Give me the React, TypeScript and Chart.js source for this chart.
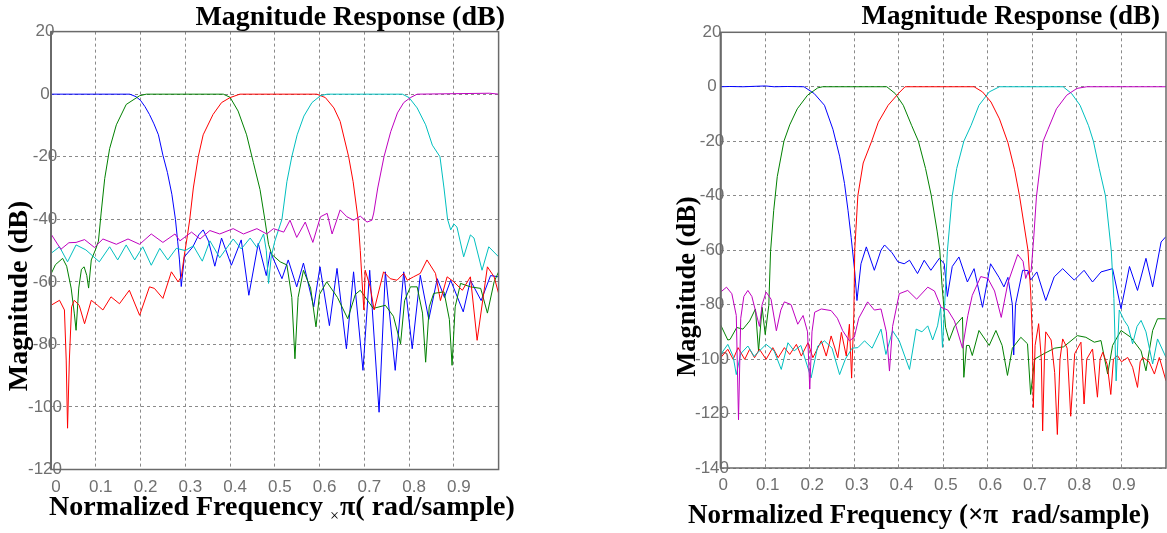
import React, { useEffect, useRef } from 'react';
import { Chart, registerables } from 'chart.js';

Chart.register(...registerables);

type Pt = [number, number];

// ---------- shared axis data ----------
const xTickValues = [0, 0.1, 0.2, 0.3, 0.4, 0.5, 0.6, 0.7, 0.8, 0.9];
const xTickLabels = ['0', '0.1', '0.2', '0.3', '0.4', '0.5', '0.6', '0.7', '0.8', '0.9'];
const yTicksLeft = [20, 0, -20, -40, -60, -80, -100, -120];
const yTicksRight = [20, 0, -20, -40, -60, -80, -100, -120, -140];

// ---------- left chart series (normalized frequency, dB) ----------
const lowpassL: Pt[] = [
  [0, 0], [0.05, 0], [0.1, 0], [0.15, 0], [0.176, 0], [0.19, -0.8], [0.2, -2], [0.21, -4], [0.22, -6.5],
  [0.23, -9.5], [0.24, -13], [0.25, -19.5], [0.26, -25], [0.27, -32], [0.278, -40], [0.283, -47], [0.287, -53],
  [0.291, -61.5], [0.298, -52], [0.317, -48.8], [0.33, -45], [0.34, -43.4], [0.352, -47], [0.366, -55],
  [0.381, -46], [0.403, -54.7], [0.425, -46.6], [0.442, -64.3], [0.463, -47.7], [0.481, -58], [0.49, -50.4],
  [0.516, -59], [0.53, -53], [0.549, -61.6], [0.564, -54], [0.587, -68], [0.601, -55.2], [0.622, -74],
  [0.639, -55.7], [0.66, -81.4], [0.676, -56.8], [0.697, -88.3], [0.712, -56.3], [0.733, -101.7],
  [0.747, -56.8], [0.769, -88.3], [0.788, -56.8], [0.807, -81.4], [0.825, -57.9], [0.844, -72],
  [0.863, -59], [0.879, -65], [0.893, -59.5], [0.921, -69.6], [0.937, -59.5], [0.961, -66], [0.982, -58],
  [1, -58.4],
];
const band1L: Pt[] = [
  [0, -57.5], [0.01, -54.5], [0.026, -52.5], [0.035, -55], [0.045, -62], [0.052, -70], [0.056, -75.5],
  [0.062, -62], [0.068, -56], [0.074, -55.2], [0.08, -58], [0.084, -62], [0.09, -53], [0.1, -49.5],
  [0.106, -47], [0.112, -38], [0.12, -27], [0.131, -17.4], [0.146, -9.8], [0.168, -3.3], [0.198, -0.5],
  [0.213, 0], [0.385, 0], [0.4, -1], [0.418, -5.4], [0.437, -13], [0.452, -21.8], [0.467, -30.5],
  [0.478, -40.3], [0.486, -48], [0.493, -51.2], [0.512, -53.6], [0.527, -54.6], [0.538, -65], [0.545, -84.6],
  [0.552, -65], [0.564, -56.3], [0.58, -62], [0.592, -74.4], [0.6, -64], [0.616, -60], [0.64, -65],
  [0.663, -71.8], [0.68, -64], [0.691, -62.7], [0.72, -68.5], [0.747, -67.5], [0.765, -71], [0.781, -79.8],
  [0.79, -66], [0.803, -61.6], [0.818, -61.6], [0.83, -70], [0.837, -85.7], [0.845, -68], [0.855, -63.7],
  [0.878, -63.2], [0.89, -72], [0.896, -86.7], [0.903, -68], [0.915, -60.5], [0.937, -61.6], [0.96, -62.1],
  [0.975, -70], [0.99, -60], [1, -56.8],
];
const band2L: Pt[] = [
  [0, -67.5], [0.019, -65.9], [0.03, -69], [0.034, -85], [0.037, -106.8], [0.041, -85], [0.046, -68],
  [0.052, -65.9], [0.063, -67.5], [0.075, -73.4], [0.09, -65.9], [0.104, -67.5], [0.116, -69], [0.134, -64.8],
  [0.153, -67], [0.175, -62.7], [0.198, -70.7], [0.22, -61.6], [0.231, -62.1], [0.25, -65.3], [0.269, -56.8],
  [0.284, -60], [0.291, -58.4], [0.298, -51.4], [0.305, -45], [0.31, -40], [0.318, -30], [0.329, -20],
  [0.34, -13], [0.362, -6.5], [0.381, -2.7], [0.4, -1.1], [0.422, 0], [0.594, 0], [0.613, -1.1], [0.632, -4.4],
  [0.646, -8.7], [0.665, -20], [0.675, -28], [0.686, -40], [0.691, -50], [0.695, -60], [0.699, -69],
  [0.702, -56.3], [0.713, -61.6], [0.722, -69], [0.743, -56.8], [0.758, -59], [0.773, -59.5], [0.788, -57.3],
  [0.796, -59.5], [0.81, -58.4], [0.825, -57.3], [0.84, -53], [0.859, -57.3], [0.87, -66], [0.885, -58.4],
  [0.9, -60], [0.919, -62.7], [0.937, -58.4], [0.952, -78.7], [0.975, -55.2], [0.99, -58.4], [1, -63.7],
];
const band3L: Pt[] = [
  [0, -50.9], [0.019, -48.8], [0.037, -53.6], [0.056, -48.2], [0.078, -49.8], [0.108, -53.6], [0.131, -48.8],
  [0.149, -53], [0.168, -48.2], [0.187, -53], [0.205, -48.8], [0.224, -54.7], [0.243, -49.3], [0.261, -53],
  [0.28, -49.3], [0.3, -50], [0.318, -48.5], [0.338, -53.4], [0.355, -46.9], [0.377, -52.3], [0.407, -46.3],
  [0.425, -49.5], [0.445, -46], [0.46, -49], [0.475, -44.7], [0.481, -50], [0.486, -60.5], [0.492, -52],
  [0.5, -47], [0.516, -40], [0.527, -28], [0.538, -20], [0.55, -13], [0.565, -7], [0.583, -2.7],
  [0.602, -0.5], [0.617, 0], [0.785, 0], [0.8, -1.1], [0.818, -4.4], [0.837, -9.8], [0.852, -16.3],
  [0.869, -20], [0.878, -30], [0.886, -40], [0.893, -43.4], [0.9, -41.5], [0.907, -42.5], [0.922, -52],
  [0.937, -45], [0.945, -46], [0.963, -56.3], [0.978, -48.8], [1, -52],
];
const highpassL: Pt[] = [
  [0, -44.7], [0.022, -49.6], [0.04, -47.5], [0.056, -47.4], [0.075, -46.5], [0.097, -49], [0.116, -46.3],
  [0.146, -48], [0.172, -46.3], [0.198, -48], [0.224, -44.7], [0.25, -47.4], [0.277, -44.7], [0.288, -46.9],
  [0.314, -44.1], [0.333, -46.3], [0.355, -43.6], [0.377, -44.7], [0.407, -43], [0.43, -44.7], [0.46, -43],
  [0.482, -44.7], [0.497, -43], [0.52, -44.1], [0.534, -40.3], [0.549, -45.8], [0.568, -40.9], [0.585, -47.4],
  [0.602, -39.2], [0.617, -38.1], [0.628, -44.7], [0.646, -37], [0.661, -39.2], [0.676, -40.3], [0.691, -39],
  [0.706, -40.9], [0.717, -40.3], [0.721, -38], [0.73, -30], [0.744, -20], [0.759, -12], [0.774, -6],
  [0.788, -2.7], [0.803, -1.1], [0.818, 0], [0.98, 0.3], [1, 0],
];

// ---------- right chart series (normalized frequency, dB) ----------
const lowpassR: Pt[] = [
  [0, 0], [0.02, 0.1], [0.05, 0], [0.1, 0.3], [0.12, 0], [0.15, 0.1], [0.187, 0], [0.21, -2.5], [0.233, -6.8],
  [0.252, -15.6], [0.267, -25.5], [0.278, -35.5], [0.286, -45.5], [0.293, -55.4], [0.301, -67.9], [0.306, -78.5],
  [0.315, -65], [0.327, -58.8], [0.345, -67.4], [0.36, -60], [0.368, -58.1], [0.385, -61], [0.398, -64.3],
  [0.412, -65], [0.424, -63.7], [0.442, -68.6], [0.457, -63.7], [0.472, -67.4], [0.491, -63], [0.502, -65],
  [0.509, -77], [0.52, -66], [0.535, -62.5], [0.554, -71.7], [0.569, -66.8], [0.588, -81], [0.606, -65],
  [0.625, -70], [0.636, -73.5], [0.645, -70], [0.655, -80], [0.658, -98.5], [0.662, -80], [0.678, -67.4],
  [0.69, -67.5], [0.696, -71], [0.71, -68], [0.73, -78.5], [0.749, -69.8], [0.768, -66.8], [0.794, -71],
  [0.816, -67.4], [0.835, -71.7], [0.854, -68], [0.88, -66.8], [0.899, -81.5], [0.918, -66], [0.936, -74.8],
  [0.955, -63], [0.97, -73.5], [0.989, -57], [1, -55],
];
const band1R: Pt[] = [
  [0, -87.5], [0.016, -93], [0.021, -92.8], [0.036, -88.4], [0.05, -89], [0.065, -86], [0.078, -81.6],
  [0.085, -97], [0.093, -81], [0.1, -91], [0.108, -80.3], [0.112, -60.4], [0.119, -45.5], [0.127, -33],
  [0.142, -20], [0.155, -14], [0.172, -8.1], [0.195, -3.1], [0.218, -0.4], [0.229, 0], [0.373, 0],
  [0.392, -2.5], [0.41, -6.8], [0.429, -14.3], [0.444, -20], [0.46, -30], [0.473, -40], [0.486, -53],
  [0.492, -60], [0.497, -72.9], [0.505, -88.3], [0.513, -93.2], [0.525, -88], [0.543, -84.6], [0.546, -106.7],
  [0.552, -95], [0.558, -95], [0.565, -98.7], [0.58, -89.5], [0.603, -95], [0.618, -89.5], [0.632, -95],
  [0.644, -106], [0.655, -96], [0.674, -92], [0.689, -94.4], [0.696, -113], [0.705, -100], [0.726, -98],
  [0.75, -96], [0.77, -95.5], [0.801, -91.4], [0.82, -92], [0.839, -93.8], [0.854, -93.2], [0.869, -105.5],
  [0.88, -95], [0.899, -89.5], [0.921, -92], [0.944, -97], [0.955, -104.3], [0.97, -89.5], [0.981, -85.2],
  [1, -85.2],
];
const band2R: Pt[] = [
  [0, -99.5], [0.016, -96.4], [0.028, -100.1], [0.039, -95.8], [0.054, -100.1], [0.065, -96.4], [0.076, -99.5],
  [0.087, -96.4], [0.102, -100.1], [0.117, -95.8], [0.129, -99.5], [0.143, -95.8], [0.155, -98.3],
  [0.17, -94.6], [0.181, -98.9], [0.196, -94], [0.207, -99.5], [0.226, -93.3], [0.237, -98.9], [0.248, -91.5],
  [0.263, -99.5], [0.271, -90.2], [0.282, -98.9], [0.289, -87.2], [0.294, -107], [0.299, -83.5], [0.301, -60],
  [0.308, -40], [0.32, -28], [0.339, -20], [0.354, -13], [0.376, -6.8], [0.399, -2.5], [0.414, 0], [0.569, 0],
  [0.588, -1.9], [0.607, -5.6], [0.626, -11.8], [0.645, -20.5], [0.66, -30.5], [0.671, -40], [0.69, -60],
  [0.696, -75], [0.7, -92.8], [0.702, -117.8], [0.706, -95], [0.714, -87], [0.72, -100], [0.723, -126.4],
  [0.727, -100], [0.73, -90], [0.742, -93], [0.75, -105], [0.756, -127.7], [0.762, -100], [0.768, -92.6],
  [0.778, -96], [0.786, -121], [0.795, -98], [0.809, -93.8], [0.816, -116.5], [0.822, -100], [0.835, -96.3],
  [0.846, -114], [0.852, -100], [0.858, -97.5], [0.868, -102], [0.876, -113], [0.882, -100], [0.891, -98.7],
  [0.9, -101], [0.914, -99.4], [0.925, -103], [0.936, -110.4], [0.942, -101], [0.948, -99.4], [0.962, -101],
  [0.974, -105.5], [0.985, -99.4], [1, -108],
];
const band3R: Pt[] = [
  [0, -98.3], [0.016, -94.6], [0.028, -99], [0.035, -105.7], [0.045, -98], [0.061, -95.2], [0.075, -99],
  [0.087, -97], [0.102, -94.6], [0.12, -97], [0.136, -103.8], [0.151, -94], [0.165, -97], [0.18, -95],
  [0.203, -106.9], [0.218, -95.2], [0.233, -93.3], [0.25, -96], [0.267, -105.7], [0.28, -100], [0.295, -96],
  [0.308, -95.8], [0.323, -93.3], [0.34, -96], [0.36, -89], [0.371, -98.3], [0.386, -89.6], [0.401, -93.3],
  [0.424, -103.8], [0.439, -89], [0.452, -90], [0.465, -87.8], [0.476, -93], [0.487, -87.8], [0.494, -81],
  [0.498, -95.7], [0.503, -80], [0.509, -60.4], [0.52, -40], [0.53, -30], [0.546, -20], [0.562, -14.3],
  [0.58, -6.8], [0.603, -1.9], [0.626, 0], [0.769, 0], [0.788, -2.5], [0.807, -6.8], [0.826, -14.3],
  [0.837, -20], [0.85, -30], [0.864, -40], [0.877, -60], [0.883, -77.8], [0.888, -108], [0.895, -82],
  [0.906, -85.8], [0.915, -88], [0.925, -94.4], [0.935, -88], [0.944, -85.8], [0.955, -90], [0.97, -101.8],
  [0.981, -92.6], [1, -99.4],
];
const highpassR: Pt[] = [
  [0, -75.4], [0.013, -73.6], [0.025, -76], [0.035, -84], [0.04, -122.3], [0.045, -85], [0.052, -77],
  [0.061, -74.8], [0.07, -77], [0.08, -83.5], [0.087, -88], [0.093, -80], [0.102, -75.4], [0.113, -78],
  [0.125, -89.6], [0.135, -82], [0.143, -79], [0.158, -80], [0.173, -87.2], [0.185, -84], [0.195, -90],
  [0.2, -111], [0.205, -90], [0.211, -82.8], [0.226, -81.6], [0.248, -82.2], [0.262, -85], [0.274, -89.6],
  [0.289, -93.3], [0.3, -92], [0.31, -85], [0.33, -79], [0.345, -82], [0.36, -81.6], [0.372, -90],
  [0.379, -104.4], [0.386, -88], [0.401, -76], [0.42, -74.8], [0.44, -78], [0.465, -73.6], [0.48, -75],
  [0.495, -81], [0.51, -82], [0.525, -86], [0.543, -96], [0.555, -84], [0.565, -76.6], [0.584, -69.7],
  [0.6, -70.4], [0.615, -75], [0.63, -84.7], [0.645, -72], [0.667, -61.6], [0.679, -64.1], [0.685, -70.4],
  [0.69, -68], [0.697, -68], [0.703, -55.4], [0.709, -40.5], [0.724, -20], [0.735, -15.6], [0.754, -8.1],
  [0.777, -3.1], [0.8, -0.6], [0.822, 0], [1, 0],
];

const COLORS = ['#0000ff', '#008000', '#ff0000', '#00bfbf', '#bf00bf'];

const serifBold = (px: number) => `bold ${px}px "Liberation Serif", "Times New Roman", serif`;
const TICK_FONT = 'Liberation Sans';

type Area = { l: number; t: number; r: number; b: number };

interface PanelProps {
  left: number;
  width: number;
  height: number;
  area: Area;
  yMin: number;
  yTicks: number[];
  series: Pt[][];
  yLabelCenter: number;
  xOffset: number;
  xPad: number;
  decorate: (ctx: CanvasRenderingContext2D) => void;
}

function Panel(p: PanelProps) {
  const ref = useRef<HTMLCanvasElement | null>(null);
  useEffect(() => {
    const canvas = ref.current;
    if (!canvas) return;
    const { area } = p;
    // y tick labels are centred left of the axis; Chart.js mirror mode lets them overlap the axis unclipped
    const widest = 34; // approx width of "-120" at 17px
    const yPad = p.yLabelCenter - area.l - widest / 2;
    const decor = {
      id: 'decor',
      afterDatasetsDraw(chart: any) {
        const ctx = chart.ctx as CanvasRenderingContext2D;
        const ca = chart.chartArea;
        ctx.save();
        ctx.strokeStyle = '#6a6a6a';
        ctx.lineWidth = 1.5;
        ctx.setLineDash([]);
        ctx.strokeRect(ca.left, ca.top, ca.right - ca.left, ca.bottom - ca.top);
        ctx.lineWidth = 2;
        ctx.beginPath();
        ctx.moveTo(ca.left, ca.top);
        ctx.lineTo(ca.left, ca.bottom);
        ctx.stroke();
        ctx.restore();
      },
      afterDraw(chart: any) {
        const ctx = chart.ctx as CanvasRenderingContext2D;
        ctx.save();
        p.decorate(ctx);
        ctx.restore();
      },
    };
    const chart = new Chart(canvas, {
      type: 'line',
      data: {
        datasets: p.series.map((s, i) => ({
          data: s.map(([x, y]) => ({ x, y })),
          borderColor: COLORS[i],
          backgroundColor: COLORS[i],
          borderWidth: 1,
          pointRadius: 0,
          tension: 0,
          fill: false,
          order: 5 - i,
        })),
      },
      options: {
        animation: false,
        responsive: false,
        devicePixelRatio: 1,
        events: [],
        layout: { padding: { left: 0, top: area.t, right: p.width - area.r, bottom: 0 } },
        plugins: { legend: { display: false }, title: { display: false }, tooltip: { enabled: false } },
        scales: {
          x: {
            type: 'linear',
            min: 0,
            max: 1,
            afterFit: (s: any) => { s.height = p.height - area.b; },
            afterBuildTicks: (s: any) => { s.ticks = xTickValues.map((v) => ({ value: v })); },
            ticks: {
              autoSkip: false,
              maxRotation: 0,
              labelOffset: p.xOffset,
              padding: p.xPad,
              color: '#707070',
              font: { family: TICK_FONT, size: 17 },
              callback: (_v: any, i: number) => xTickLabels[i] ?? '',
            },
            grid: { color: '#8a8a8a', lineWidth: 1, drawTicks: false },
            border: { display: false, dash: [3, 3] },
          },
          y: {
            type: 'linear',
            min: p.yMin,
            max: 20,
            afterFit: (s: any) => { s.width = area.l; },
            afterBuildTicks: (s: any) => { s.ticks = p.yTicks.map((v) => ({ value: v })); },
            ticks: {
              mirror: true,
              crossAlign: 'center',
              padding: yPad,
              color: '#707070',
              font: { family: TICK_FONT, size: 17 },
              callback: (v: any) => String(v),
            },
            grid: { color: '#8a8a8a', lineWidth: 1, drawTicks: false },
            border: { display: false, dash: [3, 3] },
          },
        },
      },
      plugins: [decor],
    } as any);
    return () => chart.destroy();
  }, []);
  return (
    <canvas
      ref={ref}
      width={p.width}
      height={p.height}
      style={{ position: 'absolute', left: p.left, top: 0, width: p.width, height: p.height }}
    />
  );
}

const drawYTitle = (ctx: CanvasRenderingContext2D, x: number, y: number, size: number) => {
  ctx.translate(x, y);
  ctx.rotate(-Math.PI / 2);
  ctx.font = serifBold(size);
  ctx.fillStyle = '#000';
  ctx.textAlign = 'center';
  ctx.textBaseline = 'alphabetic';
  ctx.fillText('Magnitude (dB)', 0, 0);
};

export default function App() {
  const decorateLeft = (ctx: CanvasRenderingContext2D) => {
    ctx.fillStyle = '#000';
    ctx.textBaseline = 'alphabetic';
    ctx.font = serifBold(28);
    ctx.textAlign = 'right';
    ctx.fillText('Magnitude Response (dB)', 505, 25);
    // x title with small multiplication sign
    ctx.textAlign = 'left';
    let x = 49;
    const part1 = 'Normalized Frequency ';
    ctx.fillText(part1, x, 515);
    x += ctx.measureText(part1).width;
    ctx.font = `16px "Liberation Serif", serif`;
    ctx.fillText('\u00d7', x, 521);
    x += ctx.measureText('\u00d7').width + 1;
    ctx.font = serifBold(28);
    ctx.fillText('\u03c0( rad/sample)', x, 515);
    ctx.save();
    drawYTitle(ctx, 27, 296, 28);
    ctx.restore();
  };
  const decorateRight = (ctx: CanvasRenderingContext2D) => {
    ctx.fillStyle = '#000';
    ctx.textBaseline = 'alphabetic';
    ctx.font = serifBold(27);
    ctx.textAlign = 'right';
    ctx.fillText('Magnitude Response (dB)', 560, 23.5);
    ctx.textAlign = 'left';
    ctx.fillText('Normalized Frequency (\u00d7\u03c0  rad/sample)', 88, 523);
    ctx.save();
    drawYTitle(ctx, 95, 286.5, 26.5);
    ctx.restore();
  };
  return (
    <div style={{ position: 'fixed', left: 0, top: 0, width: 1167, height: 533, background: '#fff', overflow: 'hidden' }}>
      <Panel
        left={0}
        width={540}
        height={533}
        area={{ l: 51, t: 31.6, r: 498.6, b: 469.5 }}
        yMin={-120}
        yTicks={yTicksLeft}
        series={[lowpassL, band1L, band2L, band3L, highpassL]}
        yLabelCenter={45}
        xOffset={5}
        xPad={8}
        decorate={decorateLeft}
      />
      <Panel
        left={600}
        width={567}
        height={533}
        area={{ l: 120.7, t: 32.3, r: 566, b: 468 }}
        yMin={-140}
        yTicks={yTicksRight}
        series={[lowpassR, band1R, band2R, band3R, highpassR]}
        yLabelCenter={112}
        xOffset={2.5}
        xPad={7}
        decorate={decorateRight}
      />
    </div>
  );
}
